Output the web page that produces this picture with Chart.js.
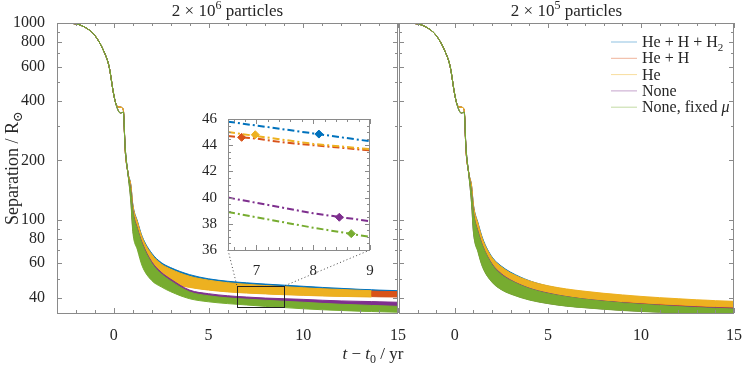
<!DOCTYPE html>
<html>
<head>
<meta charset="utf-8">
<script src="https://cdn.jsdelivr.net/npm/chart.js@4.4.1/dist/chart.umd.min.js"></script>
<style>
  body { margin: 0; background: #fff; }
  #wrap { position: relative; width: 747px; height: 366px; }
  #wrap canvas { position: absolute; left: 0; top: 0; }
</style>
</head>
<body>
<div id="wrap">
  <canvas id="left" width="747" height="366"></canvas>
  <canvas id="right" width="747" height="366"></canvas>
  <canvas id="inset" width="747" height="366"></canvas>
</div>
<script>
// ---- data ----
const seriesNames = ['He + H + H_2', 'He + H', 'He', 'None', 'None, fixed *μ*'];
const seriesColors = ['#0072BD', '#D95319', '#EDB120', '#7E2F8E', '#77AC30'];
const panelTitles = ['2 × 10^6 particles', '2 × 10^5 particles'];
const yLabel = 'Separation / R_⊙';
const xLabel = '*t* − *t*_0 / yr';

const yTicks = [40, 60, 80, 100, 200, 400, 600, 800, 1000];
const xTicks = [0, 5, 10, 15];
const insetYTicks = [36, 38, 40, 42, 44, 46];
const insetXTicks = [7, 8, 9];

// plunge phase: single thin line per run
const tEarly = [-3, -2.5, -2, -1.5, -1, -0.5, -0.25, 0, 0.15, 0.35, 0.5, 0.6, 0.75];
const sepEarly = [1000, 998, 990, 948, 864, 708, 600, 430, 380, 373, 362, 225, 172];
const sepEarlyNone = [1000, 998, 990, 948, 864, 708, 600, 430, 376, 348, 352, 232, 170];

// after plunge: orbit oscillates -> band between upper and lower envelope
const tLate = [0.9, 1, 1.25, 1.5, 2, 2.5, 3, 4, 5, 6, 7, 8, 9, 10, 11, 12, 13, 13.6, 14, 15];

// 2e6 particles
const blueHi2e6   = [150, 120, 98, 82, 67.5, 60.5, 57, 52.5, 50, 48.6, 47.7, 47.0, 46.4, 45.8, 45.2, 44.7, 44.2, 44.0, 43.8, 43.5];
const blueLo2e6   = [133, 99, 81, 66, 56, 51, 48.5, 46, 44.6, 43.8, 43.2, 42.7, 42.3, 41.9, 41.6, 41.3, 41.0, 40.9, 40.8, 40.7];
const redHi2e6    = [148, 118, 96, 80, 66, 59, 55.5, 51, 48.8, 47.4, 46.5, 45.8, 45.3, 44.8, 44.3, 43.9, 43.5, 43.3, 43.2, 43.0];
const redLo2e6    = [132, 97, 79, 65, 55, 50.5, 47.8, 45.5, 44.1, 43.2, 42.6, 42.1, 41.7, 41.4, 41.1, 40.9, 40.7, 40.6, 40.5, 40.4];
const yellowHi2e6 = [149, 119, 97, 81, 66.5, 59.5, 56, 51.5, 49.2, 47.8, 46.9, 46.2, 45.6, 45.0, 44.5, 44.1, 43.7, 43.5, null, null];
const yellowLo2e6 = [131, 96, 78, 64, 54.5, 50, 47.5, 45.2, 43.8, 42.9, 42.3, 41.9, 41.5, 41.2, 40.9, 40.7, 40.5, 40.4, null, null];
const purpleHi2e6 = [140, 112, 90, 76, 61, 54, 49.8, 43.8, 42.0, 41.0, 40.4, 39.9, 39.6, 39.3, 38.9, 38.6, 38.4, 38.3, 38.2, 38.0];
const purpleLo2e6 = [125, 90, 72, 60, 50.5, 46.5, 44, 40.5, 39, 38, 37.3, 36.8, 36.3, 35.9, 35.5, 35.2, 34.9, 34.8, 34.7, 34.5];
const greenHi2e6  = [138, 110, 89, 75, 60, 53, 48.8, 42.9, 41.0, 40.0, 39.4, 38.9, 38.4, 38.0, 37.5, 37.1, 36.8, 36.6, 36.5, 36.2];
const greenLo2e6  = [122, 87, 70, 58, 49, 45.5, 43, 39.6, 38.2, 37.4, 36.8, 36.2, 35.7, 35.2, 34.8, 34.5, 34.2, 34.1, 34.0, 33.8];

// 2e5 particles
const blueHi2e5   = [149, 119, 96, 80, 64.5, 58, 54, 48.9, 45.9, 44.0, 42.6, 41.5, 40.6, 39.8, 39.2, 38.7, 38.2, 38.0, 37.8, 37.5];
const blueLo2e5   = [131, 96, 78, 64, 53.5, 48.8, 46, 42.8, 40.9, 39.6, 38.6, 37.9, 37.3, 36.8, 36.3, 35.9, 35.5, 35.3, 35.1, 34.7];
const redHi2e5    = [147, 117, 94, 78, 63.5, 57, 53, 48.4, 45.7, 44.0, 42.8, 41.8, 41.0, 40.3, 39.7, 39.2, 38.7, 38.5, 38.3, 38.0];
const redLo2e5    = [130, 95, 77, 63, 53, 48.3, 45.8, 42.9, 41.2, 40.1, 39.2, 38.5, 37.9, 37.4, 36.9, 36.5, 36.1, 35.9, 35.8, 35.5];
const yellowHi2e5 = [148, 118, 95, 79, 64, 57.5, 53.5, 48.8, 46.1, 44.4, 43.2, 42.2, 41.4, 40.7, 40.1, 39.6, 39.1, 38.9, 38.7, 38.4];
const yellowLo2e5 = [130, 95, 77, 63, 53, 48.5, 46, 43.2, 41.6, 40.5, 39.6, 38.9, 38.3, 37.8, 37.3, 36.9, 36.5, 36.3, 36.2, 35.9];
const purpleHi2e5 = [137, 109, 87, 73.5, 59.5, 53, 49.3, 44.8, 42.3, 40.6, 39.4, 38.5, 37.8, 37.2, 36.7, 36.3, 35.9, 35.7, 35.6, 35.4];
const purpleLo2e5 = [121, 87, 69, 57.5, 48.3, 44.2, 42, 39.2, 37.5, 36.4, 35.7, 35.1, 34.6, 34.2, 33.9, 33.6, 33.4, 33.3, 33.2, 33.1];
const greenHi2e5  = [136, 108, 86, 73, 59, 52.5, 49, 44.6, 42.1, 40.5, 39.3, 38.4, 37.7, 37.1, 36.6, 36.1, 35.7, 35.5, 35.4, 35.1];
const greenLo2e5  = [120, 86, 68, 57, 48, 44, 41.8, 39, 37.4, 36.3, 35.6, 35, 34.5, 34.1, 33.8, 33.5, 33.3, 33.2, 33.1, 33.0];

// inset: mean separation, 6.5 <= t <= 9
const insetT = [6.5, 7, 7.5, 8, 8.5, 9];
const insetBlue   = [45.8, 45.5, 45.2, 44.9, 44.6, 44.3];
const insetRed    = [44.7, 44.5, 44.2, 44.0, 43.8, 43.6];
const insetYellow = [45.0, 44.7, 44.4, 44.1, 43.9, 43.7];
const insetPurple = [40.0, 39.6, 39.2, 38.8, 38.5, 38.2];
const insetGreen  = [38.9, 38.5, 38.1, 37.7, 37.35, 37.0];
const markerT   = [8.1, 6.74, 6.98, 8.46, 8.67];
const markerSep = [44.85, 44.6, 44.8, 38.5, 37.25];

// ---- helpers ----
const FONT = '"Liberation Serif", "DejaVu Serif", serif';
const TEXT = '#262626';
const FRAME = '#8a8a8a';

function range(a, b, step) {
  const out = [];
  for (let v = a; v <= b + 1e-9; v += step) out.push(Math.round(v * 100) / 100);
  return out;
}

function richParts(s) {
  const parts = [];
  let it = false;
  for (let i = 0; i < s.length; i++) {
    let c = s[i];
    if (c === '*') { it = !it; continue; }
    let mode = 'n';
    if ((c === '_' || c === '^') && i + 1 < s.length) { mode = c; c = s[++i]; }
    const last = parts[parts.length - 1];
    if (last && last.it === it && last.mode === mode) last.t += c;
    else parts.push({ t: c, it, mode });
  }
  return parts;
}

function drawRich(ctx, s, x, y, size, align) {
  const parts = richParts(s);
  const fontOf = p => `${p.it ? 'italic ' : ''}${p.mode === 'n' ? size : Math.round(size * 0.7)}px ${FONT}`;
  let w = 0;
  parts.forEach(p => { ctx.font = fontOf(p); p.w = ctx.measureText(p.t).width; w += p.w; });
  let cx = align === 'center' ? x - w / 2 : align === 'right' ? x - w : x;
  ctx.textAlign = 'left';
  ctx.textBaseline = 'alphabetic';
  ctx.fillStyle = TEXT;
  parts.forEach(p => {
    ctx.font = fontOf(p);
    const dy = p.mode === '_' ? size * 0.22 : p.mode === '^' ? -size * 0.42 : 0;
    ctx.fillText(p.t, cx, y + dy);
    cx += p.w;
  });
}

function pts(ts, ys) {
  return ts.map((t, i) => ({ x: t, y: ys[i] })).filter(p => p.y != null);
}

function bandDatasets(early, hi, lo, color, order) {
  const top = pts(tEarly, early).concat(pts(tLate, hi));
  const bot = pts(tEarly, early).concat(pts(tLate, lo));
  const common = { borderColor: color, borderWidth: 1, pointRadius: 0, cubicInterpolationMode: 'monotone', order };
  return [
    { ...common, data: top, fill: false },
    { ...common, data: bot, fill: '-1', backgroundColor: color }
  ];
}

// frame with inward ticks on all four sides
const framePlugin = {
  id: 'frame',
  afterDraw(chart, args, opts) {
    const { ctx, chartArea: a, scales: { x, y } } = chart;
    ctx.save();
    ctx.strokeStyle = FRAME;
    ctx.lineWidth = 1;
    ctx.beginPath();
    opts.xAll.forEach(v => {
      const p = Math.round(x.getPixelForValue(v)) + 0.5;
      const len = opts.xMajor.includes(v) ? 5 : 3;
      ctx.moveTo(p, a.bottom); ctx.lineTo(p, a.bottom - len);
      ctx.moveTo(p, a.top); ctx.lineTo(p, a.top + len);
    });
    opts.yAll.forEach(v => {
      const p = Math.round(y.getPixelForValue(v)) + 0.5;
      const len = opts.yMajor.includes(v) ? 5 : 3;
      ctx.moveTo(a.left, p); ctx.lineTo(a.left + len, p);
      ctx.moveTo(a.right, p); ctx.lineTo(a.right - len, p);
    });
    ctx.stroke();
    ctx.strokeRect(Math.round(a.left) + 0.5, Math.round(a.top) + 0.5,
      Math.round(a.right - a.left) - 1, Math.round(a.bottom - a.top));
    ctx.restore();
  }
};

// titles, axis labels, legend, zoom box
const textPlugin = {
  id: 'texts',
  afterDraw(chart, args, opts) {
    const { ctx, chartArea: a, scales: { x, y } } = chart;
    ctx.save();
    drawRich(ctx, opts.title, (a.left + a.right) / 2, 16, 17, 'center');
    if (opts.axisLabels) {
      drawRich(ctx, xLabel, 373, 359, 17, 'center');
      ctx.translate(18, (a.top + a.bottom) / 2);
      ctx.rotate(-Math.PI / 2);
      drawRich(ctx, yLabel, 0, 0, 18, 'center');
      ctx.setTransform(1, 0, 0, 1, 0, 0);
    }
    if (opts.zoomBox) {
      const x0 = x.getPixelForValue(insetT[0]), x1 = x.getPixelForValue(insetT[insetT.length - 1]);
      const y0 = y.getPixelForValue(insetYTicks[insetYTicks.length - 1]), y1 = y.getPixelForValue(insetYTicks[0]);
      ctx.strokeStyle = '#222';
      ctx.lineWidth = 1;
      ctx.strokeRect(Math.round(x0) + 0.5, Math.round(y0) + 0.5, Math.round(x1 - x0), Math.round(y1 - y0));
    }
    if (opts.legend) {
      const lx = a.right - 123, row0 = a.top + 18.5, step = 16.3;
      seriesNames.forEach((name, i) => {
        const ry = row0 + i * step;
        ctx.strokeStyle = seriesColors[i] + '70';
        ctx.lineWidth = 1;
        ctx.beginPath();
        ctx.moveTo(lx, ry + 0.5); ctx.lineTo(lx + 26, ry + 0.5);
        ctx.stroke();
        drawRich(ctx, name, lx + 31, ry + 5.5, 16, 'left');
      });
    }
    ctx.restore();
  }
};

function panelConfig(bands, title, isLeft) {
  const datasets = [];
  bands.forEach((b, i) => datasets.push(...bandDatasets(b[0], b[1], b[2], seriesColors[i], 5 - i)));
  return {
    type: 'line',
    data: { datasets },
    options: {
      responsive: false,
      animation: false,
      devicePixelRatio: 1,
      events: [],
      layout: { padding: isLeft ? { left: 0, right: 349, top: 23, bottom: 0 } : { left: 399, right: 7, top: 23, bottom: 0 } },
      scales: {
        x: {
          type: 'linear', min: -3, max: 15,
          grid: { display: false }, border: { display: false },
          afterBuildTicks: s => { s.ticks = xTicks.map(v => ({ value: v })); },
          afterFit: s => { s.height = 53; },
          ticks: { autoSkip: false, maxRotation: 0, padding: 5, color: TEXT, font: { family: FONT, size: 16 } }
        },
        y: {
          type: 'logarithmic', min: 33.5, max: 1000,
          display: isLeft,
          grid: { display: false }, border: { display: false },
          afterBuildTicks: s => { s.ticks = yTicks.map(v => ({ value: v })); },
          afterFit: s => { s.width = isLeft ? 57 : 0; },
          ticks: { autoSkip: false, padding: 4, color: TEXT, font: { family: FONT, size: 16 }, callback: v => String(v) }
        }
      },
      plugins: {
        legend: { display: false },
        tooltip: { enabled: false },
        frame: {
          xAll: range(-3, 15, 1), xMajor: xTicks,
          yAll: range(40, 100, 10).concat(range(200, 1000, 100)), yMajor: yTicks
        },
        texts: { title, axisLabels: isLeft, zoomBox: isLeft, legend: !isLeft }
      }
    },
    plugins: [framePlugin, textPlugin]
  };
}

const leftChart = new Chart(document.getElementById('left'), panelConfig([
  [sepEarly, blueHi2e6, blueLo2e6],
  [sepEarly, redHi2e6, redLo2e6],
  [sepEarly, yellowHi2e6, yellowLo2e6],
  [sepEarlyNone, purpleHi2e6, purpleLo2e6],
  [sepEarlyNone, greenHi2e6, greenLo2e6]
], panelTitles[0], true));

const rightChart = new Chart(document.getElementById('right'), panelConfig([
  [sepEarly, blueHi2e5, blueLo2e5],
  [sepEarly, redHi2e5, redLo2e5],
  [sepEarly, yellowHi2e5, yellowLo2e5],
  [sepEarlyNone, purpleHi2e5, purpleLo2e5],
  [sepEarlyNone, greenHi2e5, greenLo2e5]
], panelTitles[1], false));

// ---- inset ----
const insetSeries = [insetBlue, insetRed, insetYellow, insetPurple, insetGreen];
const insetDatasets = [];
insetSeries.forEach((ys, i) => {
  insetDatasets.push({
    data: pts(insetT, ys), borderColor: seriesColors[i], borderWidth: 2,
    borderDash: [7, 3, 2, 3], pointRadius: 0, fill: false, order: 5 - i
  });
  insetDatasets.push({
    data: [{ x: markerT[i], y: markerSep[i] }], showLine: false, pointStyle: 'rectRot',
    pointRadius: 4, backgroundColor: seriesColors[i], borderColor: seriesColors[i], order: 5 - i
  });
});

const insetBg = {
  id: 'insetBg',
  beforeDraw(chart) {
    const { ctx, chartArea: a } = chart;
    ctx.save();
    ctx.fillStyle = '#fff';
    ctx.fillRect(a.left, a.top, a.right - a.left, a.bottom - a.top);
    ctx.restore();
  },
  afterDraw(chart) {
    // dotted connectors from the zoom box to the inset corners
    const { ctx, chartArea: a } = chart;
    const mx = leftChart.scales.x, my = leftChart.scales.y;
    const bx0 = mx.getPixelForValue(insetT[0]), bx1 = mx.getPixelForValue(insetT[insetT.length - 1]);
    const by = my.getPixelForValue(insetYTicks[insetYTicks.length - 1]);
    ctx.save();
    ctx.strokeStyle = '#444';
    ctx.lineWidth = 1;
    ctx.setLineDash([1, 2.5]);
    ctx.beginPath();
    ctx.moveTo(a.left, a.bottom); ctx.lineTo(bx0, by);
    ctx.moveTo(a.right, a.bottom); ctx.lineTo(bx1, by);
    ctx.stroke();
    ctx.restore();
  }
};

new Chart(document.getElementById('inset'), {
  type: 'line',
  data: { datasets: insetDatasets },
  options: {
    responsive: false,
    animation: false,
    devicePixelRatio: 1,
    events: [],
    layout: { padding: { left: 198, right: 377, top: 119, bottom: 90 } },
    scales: {
      x: {
        type: 'linear', min: 6.5, max: 9,
        grid: { display: false }, border: { display: false },
        afterBuildTicks: s => { s.ticks = insetXTicks.map(v => ({ value: v })); },
        afterFit: s => { s.height = 26; },
        ticks: { autoSkip: false, maxRotation: 0, padding: 4, color: TEXT, font: { family: FONT, size: 15 } }
      },
      y: {
        type: 'linear', min: 36, max: 46,
        grid: { display: false }, border: { display: false },
        afterBuildTicks: s => { s.ticks = insetYTicks.map(v => ({ value: v })); },
        afterFit: s => { s.width = 30; },
        ticks: { autoSkip: false, padding: 3, color: TEXT, font: { family: FONT, size: 15 } }
      }
    },
    plugins: {
      legend: { display: false },
      tooltip: { enabled: false },
      frame: { xAll: range(6.6, 9, 0.2).concat(insetXTicks), xMajor: insetXTicks, yAll: range(36, 46, 0.5), yMajor: insetYTicks }
    }
  },
  plugins: [insetBg, framePlugin]
});
</script>
</body>
</html>
